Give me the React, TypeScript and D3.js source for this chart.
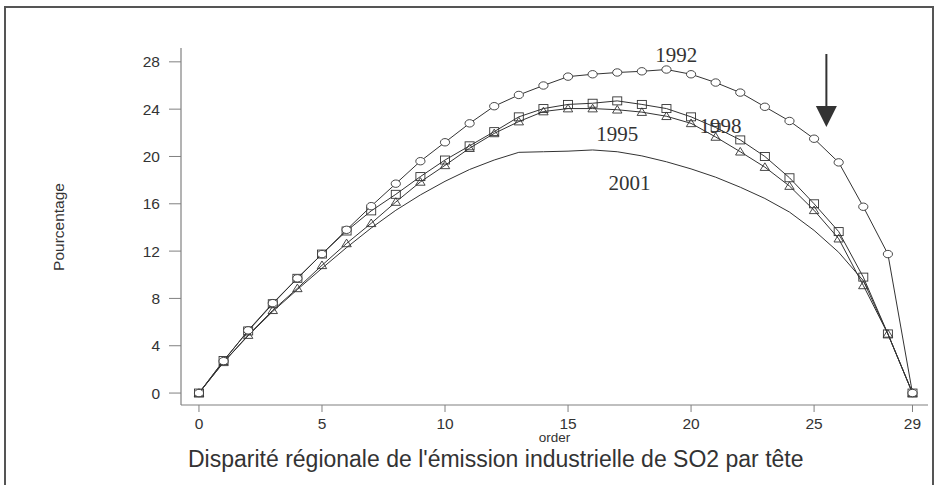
import React from 'react';
import * as d3 from 'd3';

const order = d3.range(0, 30);

// series values (Pourcentage, order 0..29)
const v1992 = [0, 2.7, 5.3, 7.6, 9.7, 11.75, 13.8, 15.8, 17.7, 19.6, 21.2, 22.8, 24.25, 25.2, 26.0,
    26.75, 26.95, 27.1, 27.2, 27.35, 26.95, 26.25, 25.4, 24.2, 23.0, 21.5, 19.5, 15.75, 11.75, 0];
const v1995 = [0, 2.75, 5.25, 7.55, 9.7, 11.75, 13.7, 15.4, 16.8, 18.3, 19.7, 20.9, 22.1, 23.35, 24.05,
    24.4, 24.5, 24.7, 24.4, 24.05, 23.35, 22.45, 21.4, 20.0, 18.2, 16.0, 13.65, 9.8, 5.0, 0];
const v1998 = [0, 2.6, 4.9, 7.0, 8.85, 10.8, 12.65, 14.35, 16.15, 17.85, 19.25, 20.7, 21.95, 22.95, 23.8,
    24.05, 24.05, 23.95, 23.75, 23.4, 22.8, 21.65, 20.4, 19.1, 17.5, 15.45, 13.05, 9.1, 5.0, 0];
const v2001 = [0, 2.6, 4.85, 6.9, 8.75, 10.55, 12.3, 13.95, 15.45, 16.75, 17.9, 18.9, 19.7, 20.35, 20.4,
    20.45, 20.55, 20.4, 20.05, 19.55, 18.95, 18.25, 17.4, 16.45, 15.3, 13.75, 11.9, 9.5, 5.0, 0];

const xTickValues = [0, 5, 10, 15, 20, 25, 29];
const yTickValues = [0, 4, 8, 12, 16, 20, 24, 28];

// year labels: [label, order position, value position]
const yearLabels: [string, number, number][] = [
    ['1992', 19.4, 28.0],
    ['1995', 17.0, 21.3],
    ['1998', 21.2, 22.0],
    ['2001', 17.5, 17.2],
];

const ink = '#333';
const axisColor = '#808080';

export default function App() {
    const width = 935;
    const height = 485;

    // plot frame: x axis from -0.73 to 29.63, y axis from -1.01 to 29.17
    const x = d3.scaleLinear().domain([-0.73, 29.63]).range([181, 928]);
    const y = d3.scaleLinear().domain([-1.01, 29.17]).range([405, 48]);

    const line = d3.line<number>()
        .x((d, i) => x(order[i]))
        .y(d => y(d));

    const circles = v1992.map((d, i) =>
        <ellipse key={'c' + i} cx={x(order[i])} cy={y(d)} rx={4.6} ry={3.7}
                 fill="white" stroke={ink} strokeWidth={0.9}/>);
    const squares = v1995.map((d, i) =>
        <rect key={'s' + i} x={x(order[i]) - 4.5} y={y(d) - 4} width={9} height={8}
              fill="none" stroke={ink} strokeWidth={0.9}/>);
    const triangles = v1998.map((d, i) => {
        const cx = x(order[i]), cy = y(d);
        return <path key={'t' + i} d={`M${cx - 4.7},${cy + 3.3}L${cx + 4.7},${cy + 3.3}L${cx},${cy - 4.3}Z`}
                     fill="none" stroke={ink} strokeWidth={0.9}/>;
    });

    //x tick and text
    const xTicks = xTickValues.map(d =>
        <g key={d} transform={`translate(${x(d)},405)`}>
            <line x1="0" x2="0" y1="0" y2="7" stroke={axisColor}/>
            <text x="0" y="24" textAnchor="middle">{d}</text>
        </g>);

    //y tick and text
    const yTicks = yTickValues.map(d =>
        <g key={d} transform={`translate(181,${y(d)})`}>
            <line x1="-12" x2="0" y1="0" y2="0" stroke={axisColor}/>
            <text x="-21" y="5.5" textAnchor="end">{d}</text>
        </g>);

    const arrowX = x(25.5);

    return (
        <svg width={width} height={height} style={{position: 'absolute', left: 0, top: 0, background: 'white'}}
             fontFamily="'Liberation Sans', Arial, sans-serif">
            <rect x={5} y={7} width={928} height={490} fill="none" stroke="#555" strokeWidth={2}/>

            <line x1={181} x2={181} y1={48} y2={405} stroke={axisColor} strokeWidth={1.2}/>
            <line x1={181} x2={928} y1={405} y2={405} stroke={axisColor} strokeWidth={1.2}/>
            <g fontSize={15.5} fill={ink}>{xTicks}</g>
            <g fontSize={15.5} fill={ink}>{yTicks}</g>

            <text x={58} y={227} fontSize={15.5} fill={ink} textAnchor="middle"
                  transform="rotate(-90,58,227)" dominantBaseline="central">Pourcentage</text>
            <text x={(181 + 928) / 2} y={441.5} fontSize={13.5} fill={ink} textAnchor="middle">order</text>
            <text x={188} y={466.5} fontSize={23} fill={ink}>Disparité régionale de l'émission industrielle de SO2 par tête</text>

            <path d={line(v2001) || ''} fill="none" stroke={ink} strokeWidth={1}/>
            <path d={line(v1998) || ''} fill="none" stroke={ink} strokeWidth={1}/>
            <path d={line(v1995) || ''} fill="none" stroke={ink} strokeWidth={1}/>
            <path d={line(v1992) || ''} fill="none" stroke={ink} strokeWidth={1}/>
            {triangles}
            {squares}
            {circles}

            <g fontFamily="'Liberation Serif', 'Times New Roman', serif" fontSize={21} fill={ink} textAnchor="middle">
                {yearLabels.map(([t, o, v]) => <text key={t} x={x(o)} y={y(v)}>{t}</text>)}
            </g>

            <line x1={arrowX} x2={arrowX} y1={54} y2={108} stroke={ink} strokeWidth={2}/>
            <path d={`M${arrowX - 10.5},106L${arrowX + 10.5},106L${arrowX},127Z`} fill={ink}/>
        </svg>
    );
}
